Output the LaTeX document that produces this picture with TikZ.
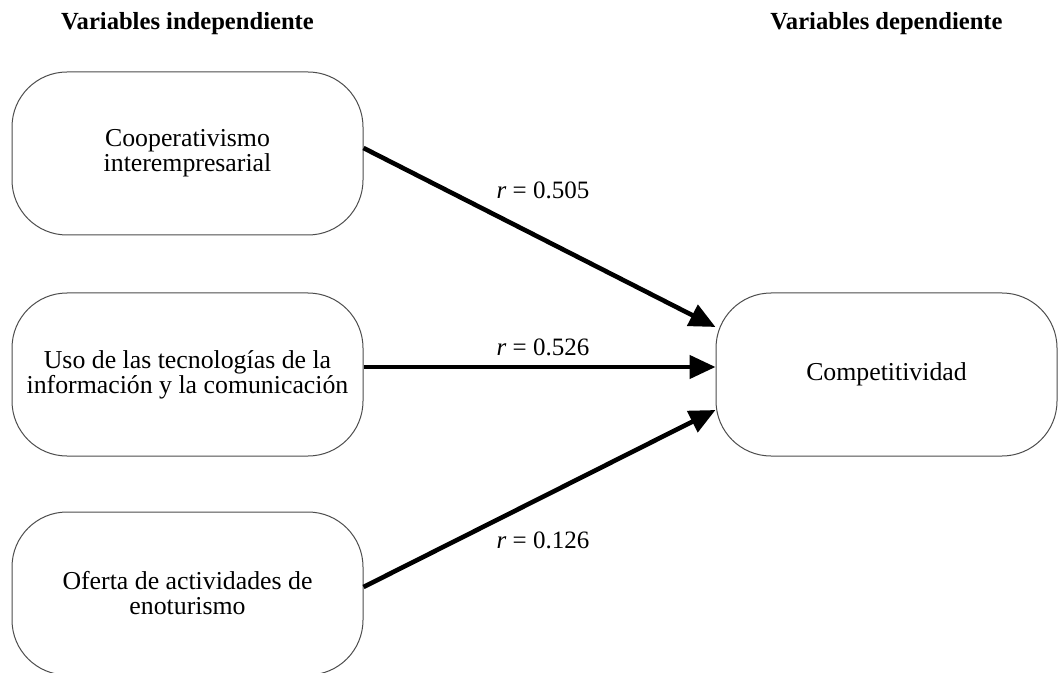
\documentclass[tikz,border=0pt]{standalone}
\usepackage{fontspec}
\setmainfont{Liberation Serif}
\usetikzlibrary{arrows.meta}

\begin{document}
\begin{tikzpicture}[x=0.5pt,y=0.5pt,
    varbox/.style={draw=black!70, line width=0.5pt, rounded corners=27.5pt,
        minimum width=175.5pt, minimum height=81.5pt, align=center,
        font=\fontsize{12.9}{12.5}\selectfont},
    heading/.style={font=\fontsize{12.3}{14}\selectfont\bfseries},
    link/.style={line width=2.3pt, -{Triangle[length=13pt,width=11.5pt]}},
    coef/.style={font=\fontsize{12.5}{14}\selectfont}]
    % Fix the canvas
    \useasboundingbox (0,0) rectangle (1058,-673);

    % Draw the headings
    \node[heading] (indep) at (187.5,-24) {Variables independiente};
    \node[heading] (dep) at (886.5,-24) {Variables dependiente};

    % Draw the independent variables
    \node[varbox] (coop) at (187.5,-153.5) {Cooperativismo\\interempresarial};
    \node[varbox] (tic) at (187.5,-374.5) {Uso de las tecnologías de la\\información y la comunicación};
    \node[varbox] (enot) at (187.5,-593.5) {Oferta de actividades de\\enoturismo};

    % Draw the dependent variable
    \node[varbox, minimum width=170.5pt] (comp) at (886.5,-374.5) {Competitividad};

    % Draw the correlations
    \draw[link] ([yshift=2.75pt]coop.east) -- ([yshift=23.75pt]comp.west);
    \draw[link] ([yshift=3.75pt]tic.east) -- ([yshift=3.75pt]comp.west);
    \draw[link] ([yshift=3.25pt]enot.east) -- ([yshift=-17.75pt]comp.west);

    % Label the correlations
    \node[coef] (r1) at (543,-190) {\textit{r} = 0.505};
    \node[coef] (r2) at (543,-347) {\textit{r} = 0.526};
    \node[coef] (r3) at (543,-540) {\textit{r} = 0.126};
\end{tikzpicture}
\end{document}
